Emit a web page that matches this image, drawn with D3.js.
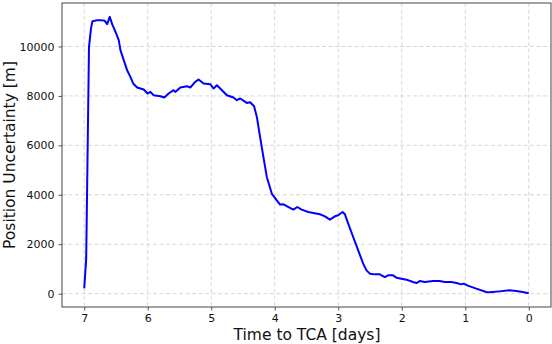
<!DOCTYPE html>
<html><head><meta charset="utf-8">
<script src="https://cdn.jsdelivr.net/npm/d3@7"></script>
<style>body{margin:0;background:#fff}svg{display:block;font-family:"DejaVu Sans",sans-serif}</style>
</head><body><svg id="c" width="552" height="344"></svg>
<script>
const days = [7.000,6.969,6.925,6.893,6.870,6.833,6.791,6.744,6.676,6.639,6.598,6.560,6.508,6.456,6.430,6.378,6.325,6.273,6.230,6.167,6.064,6.001,5.959,5.907,5.801,5.739,5.671,5.593,5.566,5.487,5.382,5.330,5.252,5.200,5.121,5.016,4.964,4.911,4.859,4.753,4.650,4.597,4.545,4.440,4.388,4.325,4.282,4.231,4.179,4.125,4.047,3.968,3.916,3.862,3.783,3.707,3.645,3.576,3.472,3.393,3.288,3.210,3.131,3.052,3.001,2.931,2.895,2.843,2.765,2.686,2.608,2.555,2.503,2.424,2.346,2.267,2.215,2.137,2.083,2.005,1.926,1.822,1.769,1.717,1.639,1.508,1.403,1.324,1.219,1.140,1.062,1.026,0.959,0.827,0.670,0.618,0.461,0.304,0.198,0.095,0.000];
const uncertainty = [215,1429,9973,10742,11025,11038,11066,11066,11038,10904,11200,10904,10592,10256,9851,9446,9041,8770,8503,8341,8260,8098,8163,8029,7989,7936,8098,8232,8163,8341,8394,8341,8568,8665,8503,8475,8300,8434,8300,8029,7936,7827,7896,7717,7746,7584,7151,6341,5531,4722,4049,3778,3604,3616,3506,3401,3506,3401,3304,3264,3211,3130,2996,3130,3170,3304,3211,2834,2292,1753,1215,944,810,781,781,672,741,741,648,607,567,470,429,510,470,510,510,470,470,429,377,405,324,202,65,53,93,134,105,65,20];
const xTicks = [7,6,5,4,3,2,1,0];
const yTicks = [0,2000,4000,6000,8000,10000];
const xLabel = "Time to TCA [days]";
const yLabel = "Position Uncertainty [m]";

const L=62, R=551, T=3, B=307;
const svg = d3.select("#c");
const xr = d3.extent(days), xp = (xr[1]-xr[0])*0.05;
const yr = d3.extent(uncertainty), yp = (yr[1]-yr[0])*0.05;
const x = d3.scaleLinear().domain([xr[1]+xp, xr[0]-xp]).range([L,R]);
const y = d3.scaleLinear().domain([yr[0]-yp, yr[1]+yp]).range([B,T]);

// grid
const g = svg.append("g");
g.selectAll(".gx").data(xTicks).join("line")
  .attr("x1",d=>x(d)).attr("x2",d=>x(d)).attr("y1",T).attr("y2",B)
  .attr("stroke","#d3d3d3").attr("stroke-width",0.9).attr("stroke-dasharray","4,2.5");
g.selectAll(".gy").data(yTicks).join("line")
  .attr("x1",L).attr("x2",R).attr("y1",d=>y(d)).attr("y2",d=>y(d))
  .attr("stroke","#d3d3d3").attr("stroke-width",0.9).attr("stroke-dasharray","4,2.5");

// line
svg.append("path").datum(days.map((d,i)=>[d,uncertainty[i]]))
  .attr("fill","none").attr("stroke","#0000ff").attr("stroke-width",2)
  .attr("stroke-linejoin","round")
  .attr("d", d3.line().x(d=>x(d[0])).y(d=>y(d[1])));

// axes
const ax = svg.append("g").attr("transform",`translate(0,${B})`)
  .call(d3.axisBottom(x).tickValues(xTicks).tickFormat(d3.format("d")).tickSize(3.5).tickPadding(4));
const ay = svg.append("g").attr("transform",`translate(${L},0)`)
  .call(d3.axisLeft(y).tickValues(yTicks).tickFormat(d3.format("d")).tickSize(3.5).tickPadding(4));
[ax,ay].forEach(a=>{
  a.select(".domain").remove();
  a.selectAll(".tick line").attr("stroke","#444").attr("stroke-width",0.9);
  a.selectAll(".tick text").attr("fill","#111").style("font-size","11px").style("font-family","DejaVu Sans");
});

// spines
svg.append("rect").attr("x",L).attr("y",T).attr("width",R-L).attr("height",B-T)
  .attr("fill","none").attr("stroke","#444").attr("stroke-width",1);

svg.append("text").attr("x",(L+R)/2+0.5).attr("y",340).attr("text-anchor","middle")
  .style("font-size","15.5px").attr("fill","#111").text(xLabel);
svg.append("text").attr("transform",`translate(15,${(T+B)/2}) rotate(-90)`).attr("text-anchor","middle")
  .style("font-size","15.5px").attr("fill","#111").text(yLabel);
</script></body></html>
